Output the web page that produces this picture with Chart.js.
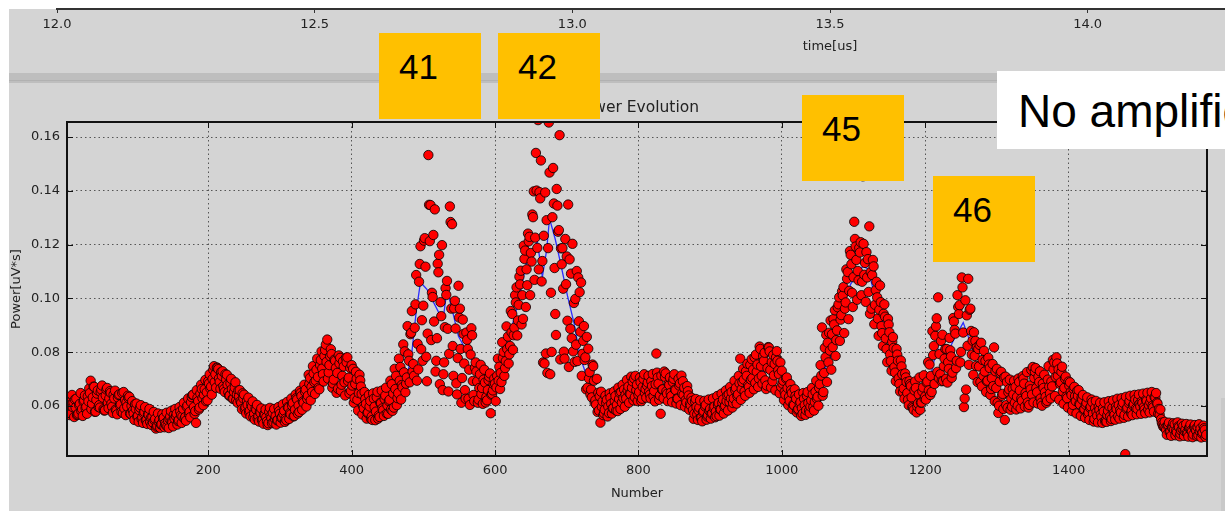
<!DOCTYPE html>
<html>
<head>
<meta charset="utf-8">
<title>Power Evolution</title>
<script src="https://cdn.jsdelivr.net/npm/chart.js@4.4.1/dist/chart.umd.min.js"></script>
<style>
  html, body { margin: 0; padding: 0; }
  body { width: 1225px; height: 511px; overflow: hidden; position: relative; background: #fff; }
  #fundo { position: absolute; left: 9px; top: 9px; right: 0; bottom: 0; background: #d4d4d4; }
  #faixa { position: absolute; left: 9px; top: 73px; right: 0; height: 10px; background: #bebebe; }
  #faixaLinha { position: absolute; left: 9px; top: 80px; right: 0; height: 1px; background: #b1b1b1; }
  #bordaDireita { position: absolute; left: 1221px; top: 398px; width: 4px; bottom: 0; background: #c9c9c9; }
  canvas { position: absolute; }
  #graficoPotencia { left: 0; top: 0; }
  #graficoTempo { left: 37px; top: 0; }
  .caixa { position: absolute; width: 102px; height: 86px; background: #ffc000; box-sizing: border-box;
           padding: 16px 0 0 20px; font: 35px/35px "Liberation Sans", Arial, sans-serif; color: #000; }
  #aviso { position: absolute; left: 997px; top: 71px; width: 228px; height: 78px; background: #fff; box-sizing: border-box;
           padding: 17px 0 0 21px; font: 46px/46px "Liberation Sans", Arial, sans-serif; color: #000;
           white-space: nowrap; overflow: hidden; }
</style>
</head>
<body>
<div id="fundo"></div>
<div id="faixa"></div>
<div id="faixaLinha"></div>
<div id="bordaDireita"></div>
<canvas id="graficoPotencia" width="1225" height="511"></canvas>
<canvas id="graficoTempo" width="1586" height="56"></canvas>
<div class="caixa" style="left:379px; top:33px;">41</div>
<div class="caixa" style="left:498px; top:33px;">42</div>
<div class="caixa" style="left:802px; top:95px;">45</div>
<div class="caixa" style="left:933px; top:176px;">46</div>
<div id="aviso">No amplification</div>

<script>
// Amostras, em três séries intercaladas (cada uma pega 1 a cada 3 amostras)
const passoAmostra = 3;
const primeiraAmostra = 3;          // potencia: amostras 3, 6, 9, ...
const primeiraBorda = 4;            // potenciaBorda: amostras 4, 7, 10, ...
const primeiraIntercalada = 5;      // potenciaIntercalada: amostras 5, 8, 11, ...
const potencia = [
    0.0585, 0.0602, 0.0571, 0.0613, 0.0594, 0.0568, 0.0608, 0.0589, 0.0621, 0.0597,
    0.0617, 0.0694, 0.0632, 0.0578, 0.0646, 0.0603, 0.0661, 0.0588, 0.0639, 0.0612,
    0.0655, 0.0597, 0.0628, 0.0583, 0.0641, 0.0606, 0.0574, 0.0622, 0.0598, 0.0634,
    0.0601, 0.0572, 0.0589, 0.0563, 0.0594, 0.0558, 0.0578, 0.0549, 0.0567, 0.0556,
    0.0538, 0.0552, 0.0527, 0.0548, 0.0533, 0.0557, 0.0529, 0.0546, 0.0561, 0.0539,
    0.0553, 0.0571, 0.0548, 0.0566, 0.0589, 0.0559, 0.0602, 0.0578, 0.0633, 0.0596,
    0.0537, 0.0618, 0.0646, 0.0629, 0.0662, 0.0651, 0.0683, 0.0672, 0.0735, 0.0718,
    0.0741, 0.0689, 0.0712, 0.0663, 0.0698, 0.0651, 0.0684, 0.0627, 0.0668, 0.0643,
    0.0636, 0.0612, 0.0628, 0.0595, 0.0604, 0.0583, 0.0598, 0.0571, 0.0586, 0.0562,
    0.0574, 0.0551, 0.0566, 0.0543, 0.0578, 0.0555, 0.0539, 0.0562, 0.0548, 0.0571,
    0.0558, 0.0582, 0.0547, 0.0593, 0.0569, 0.0611, 0.0586, 0.0624, 0.0578, 0.0637,
    0.0612, 0.0661, 0.0638, 0.0704, 0.0652, 0.0689, 0.0735, 0.0668, 0.0771, 0.0718,
    0.0808, 0.0847, 0.0752, 0.0793, 0.0698, 0.0741, 0.0664, 0.0779, 0.0712, 0.0688,
    0.0762, 0.0705, 0.0657, 0.0738, 0.0682, 0.0623, 0.0716, 0.0645, 0.0591, 0.0608,
    0.0576, 0.0619, 0.0548, 0.0597, 0.0632, 0.0565, 0.0611, 0.0584, 0.0639, 0.0602,
    0.0623, 0.0681, 0.0594, 0.0712, 0.0648, 0.0745, 0.0669, 0.0803, 0.0706, 0.0768,
    0.0872, 0.0756, 0.0978, 0.0831, 0.1128, 0.0919, 0.1215, 0.0783, 0.1533, 0.1347,
    0.1005, 0.1331, 0.0852, 0.1162, 0.0934, 0.0718, 0.1038, 0.0887, 0.1342, 0.1276,
    0.0963, 0.0684, 0.1047, 0.0812, 0.0921, 0.0659, 0.0846, 0.0735, 0.0889, 0.0641,
    0.0762, 0.0612, 0.0718, 0.0667, 0.0735, 0.0634, 0.0696, 0.0573, 0.0658, 0.0683,
    0.0712, 0.0746, 0.0689, 0.0801, 0.0767, 0.0858, 0.0823, 0.0942, 0.0891, 0.1041,
    0.0976, 0.1103, 0.0924, 0.1178, 0.1049, 0.1229, 0.1137, 0.1398, 0.1541, 0.1663,
    0.1372, 0.1139, 0.0758, 0.1291, 0.1654, 0.1021, 0.1485, 0.0942, 0.1345, 0.1607,
    0.1127, 0.0802, 0.1053, 0.1349, 0.0887, 0.1203, 0.0764, 0.1102, 0.0915, 0.1059,
    0.0842, 0.0781, 0.0668, 0.0726, 0.0632, 0.0694, 0.0605, 0.0649, 0.0538, 0.0617,
    0.0586, 0.0623, 0.0574, 0.0608, 0.0592, 0.0637, 0.0581, 0.0649, 0.0613, 0.0661,
    0.0628, 0.0672, 0.0644, 0.0691, 0.0633, 0.0679, 0.0652, 0.0618, 0.0701, 0.0663,
    0.0687, 0.0642, 0.0674, 0.0656, 0.0795, 0.0683, 0.0571, 0.0662, 0.0708, 0.0645,
    0.0678, 0.0637, 0.0701, 0.0659, 0.0627, 0.0684, 0.0646, 0.0668, 0.0613, 0.0639,
    0.0602, 0.0585, 0.0617, 0.0569, 0.0594, 0.0558, 0.0581, 0.0604, 0.0566, 0.0589,
    0.0573, 0.0598, 0.0562, 0.0611, 0.0587, 0.0624, 0.0601, 0.0639, 0.0615, 0.0652,
    0.0628, 0.0667, 0.0643, 0.0776, 0.0689, 0.0654, 0.0712, 0.0671, 0.0698, 0.0735,
    0.0686, 0.0754, 0.0821, 0.0712, 0.0768, 0.0663, 0.0819, 0.0734, 0.0692, 0.0756,
    0.0804, 0.0718, 0.0671, 0.0694, 0.0642, 0.0667, 0.0619, 0.0648, 0.0603, 0.0627,
    0.0589, 0.0614, 0.0571, 0.0603, 0.0638, 0.0582, 0.0621, 0.0596, 0.0653, 0.0634,
    0.0681, 0.0892, 0.0723, 0.0864, 0.0762, 0.0918, 0.0819, 0.0956, 0.0881, 0.1004,
    0.0938, 0.1042, 0.0985, 0.1098, 0.1176, 0.1021, 0.1285, 0.1143, 0.1067, 0.1209,
    0.1454, 0.1132, 0.1078, 0.1268, 0.0962, 0.1119, 0.1031, 0.0925, 0.1048, 0.0871,
    0.0978, 0.0812, 0.0903, 0.0767, 0.0856, 0.0724, 0.0791, 0.0682, 0.0747, 0.0665,
    0.0706, 0.0623, 0.0681, 0.0597, 0.0658, 0.0576, 0.0643, 0.0612, 0.0669, 0.0635,
    0.0691, 0.0754, 0.0652, 0.0823, 0.0896, 0.1004, 0.0718, 0.0865, 0.0776, 0.0812,
    0.0738, 0.0784, 0.0927, 0.0869, 0.1012, 0.0975, 0.1078, 0.0596, 0.0661, 0.1073,
    0.0962, 0.0843, 0.0786, 0.0818, 0.0747, 0.0835, 0.0712, 0.0768, 0.0694, 0.0741,
    0.0703, 0.0818, 0.0667, 0.0574, 0.0721, 0.0645, 0.0548, 0.0689, 0.0662, 0.0627,
    0.0643, 0.0671, 0.0601, 0.0658, 0.0619, 0.0683, 0.0637, 0.0594, 0.0662, 0.0745,
    0.0728, 0.0651, 0.0689, 0.0612, 0.0667, 0.0634, 0.0698, 0.0647, 0.0673, 0.0762,
    0.0781, 0.0736, 0.0688, 0.0654, 0.0702, 0.0629, 0.0676, 0.0641, 0.0663, 0.0618,
    0.0637, 0.0605, 0.0624, 0.0589, 0.0612, 0.0576, 0.0598, 0.0571, 0.0593, 0.0564,
    0.0586, 0.0558, 0.0579, 0.0547, 0.0582, 0.0561, 0.0593, 0.0567, 0.0588, 0.0603,
    0.0576, 0.0612, 0.0421, 0.0594, 0.0618, 0.0583, 0.0607, 0.0591, 0.0622, 0.0598,
    0.0611, 0.0587, 0.0619, 0.0603, 0.0628, 0.0595, 0.0631, 0.0609, 0.0567, 0.0538,
    0.0524, 0.0511, 0.0529, 0.0506, 0.0518, 0.0532, 0.0502, 0.0521, 0.0509, 0.0526,
    0.0513, 0.0497, 0.0519, 0.0504, 0.0523, 0.0508, 0.0491, 0.0516, 0.0502, 0.0511
];
const potenciaBorda = [
    0.0632, 0.0566, 0.0641, 0.0559, 0.0627, 0.0572, 0.0648, 0.0563, 0.0639, 0.0571,
    0.0665, 0.0588, 0.0672, 0.0579, 0.0658, 0.0594, 0.0676, 0.0583, 0.0661, 0.0592,
    0.0649, 0.0574, 0.0657, 0.0569, 0.0643, 0.0578, 0.0652, 0.0566, 0.0638, 0.0572,
    0.0618, 0.0548, 0.0609, 0.0541, 0.0603, 0.0537, 0.0596, 0.0533, 0.0589, 0.0529,
    0.0578, 0.0516, 0.0572, 0.0519, 0.0569, 0.0521, 0.0575, 0.0518, 0.0581, 0.0524,
    0.0589, 0.0531, 0.0596, 0.0537, 0.0612, 0.0545, 0.0628, 0.0558, 0.0641, 0.0571,
    0.0659, 0.0587, 0.0679, 0.0603, 0.0697, 0.0621, 0.0718, 0.0642, 0.0748, 0.0668,
    0.0737, 0.0664, 0.0729, 0.0652, 0.0716, 0.0638, 0.0701, 0.0627, 0.0688, 0.0612,
    0.0659, 0.0588, 0.0642, 0.0572, 0.0631, 0.0561, 0.0617, 0.0549, 0.0604, 0.0542,
    0.0591, 0.0534, 0.0587, 0.0529, 0.0593, 0.0536, 0.0589, 0.0531, 0.0596, 0.0538,
    0.0606, 0.0541, 0.0615, 0.0552, 0.0628, 0.0561, 0.0643, 0.0572, 0.0657, 0.0586,
    0.0679, 0.0598, 0.0716, 0.0621, 0.0748, 0.0645, 0.0776, 0.0662, 0.0803, 0.0691,
    0.0828, 0.0702, 0.0785, 0.0668, 0.0772, 0.0649, 0.0788, 0.0657, 0.0766, 0.0639,
    0.0781, 0.0647, 0.0752, 0.0612, 0.0727, 0.0583, 0.0695, 0.0568, 0.0652, 0.0553,
    0.0641, 0.0552, 0.0647, 0.0547, 0.0653, 0.0559, 0.0657, 0.0563, 0.0668, 0.0571,
    0.0694, 0.0582, 0.0738, 0.0603, 0.0776, 0.0624, 0.0829, 0.0651, 0.0897, 0.0688,
    0.0953, 0.0712, 0.1087, 0.0736, 0.1194, 0.0768, 0.1224, 0.0692, 0.1348, 0.0845,
    0.1236, 0.0728, 0.1129, 0.0681, 0.1198, 0.0762, 0.1013, 0.0654, 0.1284, 0.0823,
    0.0991, 0.0643, 0.0929, 0.0612, 0.0868, 0.0627, 0.0812, 0.0604, 0.0863, 0.0618,
    0.0728, 0.0624, 0.0753, 0.0608, 0.0687, 0.0621, 0.0709, 0.0642, 0.0681, 0.0618,
    0.0776, 0.0663, 0.0837, 0.0712, 0.0896, 0.0758, 0.0953, 0.0809, 0.1012, 0.0862,
    0.1081, 0.0903, 0.1196, 0.0968, 0.1241, 0.1012, 0.1312, 0.1069, 0.1401, 0.1108,
    0.1513, 0.0762, 0.1394, 0.0723, 0.1468, 0.0801, 0.1353, 0.0864, 0.1248, 0.0773,
    0.1187, 0.0776, 0.1156, 0.0745, 0.1092, 0.0803, 0.0998, 0.0767, 0.1023, 0.0712,
    0.0897, 0.0662, 0.0813, 0.0643, 0.0754, 0.0612, 0.0701, 0.0583, 0.0653, 0.0566,
    0.0638, 0.0561, 0.0647, 0.0572, 0.0654, 0.0583, 0.0668, 0.0589, 0.0679, 0.0597,
    0.0697, 0.0612, 0.0709, 0.0621, 0.0712, 0.0618, 0.0705, 0.0627, 0.0718, 0.0631,
    0.0712, 0.0628, 0.0719, 0.0617, 0.0724, 0.0623, 0.0713, 0.0629, 0.0721, 0.0618,
    0.0706, 0.0614, 0.0718, 0.0609, 0.0701, 0.0603, 0.0692, 0.0597, 0.0674, 0.0586,
    0.0631, 0.0552, 0.0626, 0.0548, 0.0621, 0.0543, 0.0619, 0.0549, 0.0624, 0.0553,
    0.0628, 0.0558, 0.0637, 0.0564, 0.0646, 0.0572, 0.0658, 0.0583, 0.0671, 0.0594,
    0.0694, 0.0609, 0.0712, 0.0623, 0.0738, 0.0638, 0.0757, 0.0649, 0.0774, 0.0662,
    0.0791, 0.0671, 0.0812, 0.0683, 0.0798, 0.0676, 0.0817, 0.0669, 0.0789, 0.0658,
    0.0768, 0.0647, 0.0731, 0.0622, 0.0702, 0.0603, 0.0681, 0.0588, 0.0662, 0.0576,
    0.0643, 0.0563, 0.0648, 0.0567, 0.0652, 0.0574, 0.0667, 0.0583, 0.0694, 0.0601,
    0.0752, 0.0638, 0.0816, 0.0689, 0.0872, 0.0735, 0.0923, 0.0786, 0.0967, 0.0842,
    0.1026, 0.0871, 0.1108, 0.0923, 0.1162, 0.0968, 0.1221, 0.0995, 0.1188, 0.1012,
    0.1203, 0.0987, 0.1146, 0.0943, 0.1087, 0.0904, 0.1062, 0.0861, 0.0986, 0.0823,
    0.0932, 0.0763, 0.0874, 0.0731, 0.0816, 0.0692, 0.0768, 0.0654, 0.0718, 0.0627,
    0.0689, 0.0603, 0.0674, 0.0592, 0.0691, 0.0598, 0.0706, 0.0613, 0.0714, 0.0624,
    0.0763, 0.0641, 0.0878, 0.0682, 0.0926, 0.0704, 0.0842, 0.0693, 0.0812, 0.0687,
    0.0853, 0.0705, 0.0914, 0.0741, 0.0968, 0.0762, 0.1041, 0.0628, 0.0937, 0.0753,
    0.0879, 0.0716, 0.0842, 0.0689, 0.0827, 0.0673, 0.0805, 0.0652, 0.0779, 0.0641,
    0.0756, 0.0618, 0.0738, 0.0601, 0.0727, 0.0589, 0.0709, 0.0593, 0.0698, 0.0597,
    0.0694, 0.0587, 0.0702, 0.0591, 0.0711, 0.0598, 0.0726, 0.0604, 0.0734, 0.0613,
    0.0741, 0.0609, 0.0729, 0.0601, 0.0716, 0.0612, 0.0748, 0.0628, 0.0771, 0.0637,
    0.0758, 0.0623, 0.0727, 0.0608, 0.0709, 0.0594, 0.0688, 0.0581, 0.0671, 0.0572,
    0.0659, 0.0563, 0.0641, 0.0556, 0.0632, 0.0548, 0.0624, 0.0542, 0.0619, 0.0539,
    0.0612, 0.0537, 0.0614, 0.0541, 0.0618, 0.0544, 0.0621, 0.0549, 0.0627, 0.0553,
    0.0629, 0.0556, 0.0634, 0.0561, 0.0638, 0.0566, 0.0641, 0.0569, 0.0643, 0.0571,
    0.0646, 0.0573, 0.0649, 0.0576, 0.0652, 0.0579, 0.0648, 0.0571, 0.0587, 0.0531,
    0.0541, 0.0493, 0.0538, 0.0489, 0.0536, 0.0491, 0.0539, 0.0487, 0.0534, 0.0489,
    0.0533, 0.0486, 0.0531, 0.0484, 0.0529, 0.0488, 0.0532, 0.0483, 0.0527, 0.0485
];
const potenciaIntercalada = [
    0.0612, 0.0579, 0.0596, 0.0624, 0.0566, 0.0603, 0.0581, 0.0617, 0.0592, 0.0636,
    0.0648, 0.0609, 0.0671, 0.0623, 0.0596, 0.0652, 0.0631, 0.0584, 0.0667, 0.0628,
    0.0609, 0.0642, 0.0587, 0.0631, 0.0602, 0.0648, 0.0591, 0.0613, 0.0629, 0.0571,
    0.0583, 0.0607, 0.0561, 0.0584, 0.0552, 0.0573, 0.0546, 0.0569, 0.0541, 0.0558,
    0.0547, 0.0523, 0.0541, 0.0531, 0.0554, 0.0536, 0.0524, 0.0552, 0.0543, 0.0567,
    0.0562, 0.0544, 0.0579, 0.0561, 0.0553, 0.0597, 0.0571, 0.0614, 0.0642, 0.0581,
    0.0631, 0.0594, 0.0663, 0.0641, 0.0618, 0.0692, 0.0665, 0.0701, 0.0689, 0.0743,
    0.0702, 0.0726, 0.0674, 0.0718, 0.0679, 0.0639, 0.0663, 0.0652, 0.0621, 0.0657,
    0.0618, 0.0647, 0.0589, 0.0619, 0.0577, 0.0606, 0.0559, 0.0591, 0.0553, 0.0578,
    0.0547, 0.0569, 0.0558, 0.0536, 0.0562, 0.0574, 0.0552, 0.0547, 0.0581, 0.0556,
    0.0571, 0.0553, 0.0596, 0.0574, 0.0601, 0.0563, 0.0629, 0.0602, 0.0648, 0.0617,
    0.0653, 0.0627, 0.0682, 0.0671, 0.0721, 0.0694, 0.0708, 0.0752, 0.0739, 0.0786,
    0.0764, 0.0725, 0.0811, 0.0684, 0.0768, 0.0723, 0.0758, 0.0679, 0.0747, 0.0779,
    0.0693, 0.0741, 0.0676, 0.0629, 0.0701, 0.0648, 0.0672, 0.0599, 0.0626, 0.0574,
    0.0598, 0.0561, 0.0627, 0.0579, 0.0553, 0.0612, 0.0591, 0.0626, 0.0572, 0.0618,
    0.0587, 0.0646, 0.0663, 0.0629, 0.0694, 0.0678, 0.0725, 0.0683, 0.0792, 0.0867,
    0.0728, 0.0891, 0.0694, 0.1062, 0.0811, 0.0973, 0.1118, 0.0869, 0.1213, 0.1021,
    0.0914, 0.0768, 0.1097, 0.0986, 0.0659, 0.0893, 0.1065, 0.0794, 0.0962, 0.0712,
    0.0888, 0.0778, 0.0962, 0.0704, 0.0758, 0.0873, 0.0627, 0.0791, 0.0693, 0.0742,
    0.0691, 0.0667, 0.0644, 0.0698, 0.0613, 0.0659, 0.0721, 0.0645, 0.0702, 0.0669,
    0.0694, 0.0723, 0.0778, 0.0741, 0.0812, 0.0792, 0.0874, 0.0863, 0.0985, 0.0918,
    0.1052, 0.1012, 0.1147, 0.1108, 0.1212, 0.1169, 0.1302, 0.1226, 0.1188, 0.1395,
    0.1063, 0.1233, 0.0795, 0.1187, 0.0718, 0.1302, 0.1113, 0.1407, 0.1254, 0.1186,
    0.1036, 0.1221, 0.0917, 0.1145, 0.0852, 0.0983, 0.0828, 0.1078, 0.0876, 0.0794,
    0.0771, 0.0857, 0.0702, 0.0661, 0.0748, 0.0621, 0.0578, 0.0636, 0.0597, 0.0573,
    0.0612, 0.0598, 0.0631, 0.0591, 0.0619, 0.0604, 0.0626, 0.0652, 0.0629, 0.0642,
    0.0657, 0.0646, 0.0668, 0.0702, 0.0659, 0.0642, 0.0688, 0.0671, 0.0649, 0.0676,
    0.0653, 0.0692, 0.0636, 0.0681, 0.0706, 0.0639, 0.0661, 0.0728, 0.0654, 0.0683,
    0.0649, 0.0689, 0.0661, 0.0628, 0.0676, 0.0713, 0.0641, 0.0622, 0.0655, 0.0608,
    0.0619, 0.0571, 0.0596, 0.0583, 0.0556, 0.0577, 0.0598, 0.0561, 0.0582, 0.0571,
    0.0592, 0.0579, 0.0604, 0.0588, 0.0612, 0.0597, 0.0618, 0.0643, 0.0628, 0.0611,
    0.0659, 0.0637, 0.0684, 0.0663, 0.0698, 0.0729, 0.0677, 0.0753, 0.0704, 0.0781,
    0.0727, 0.0702, 0.0748, 0.0786, 0.0695, 0.0741, 0.0803, 0.0763, 0.0714, 0.0781,
    0.0732, 0.0762, 0.0683, 0.0652, 0.0706, 0.0634, 0.0659, 0.0605, 0.0637, 0.0586,
    0.0608, 0.0592, 0.0627, 0.0584, 0.0611, 0.0598, 0.0643, 0.0615, 0.0627, 0.0668,
    0.0713, 0.0652, 0.0781, 0.0835, 0.0806, 0.0867, 0.0903, 0.0845, 0.0978, 0.0921,
    0.1011, 0.0962, 0.1073, 0.1028, 0.1127, 0.1079, 0.1193, 0.1102, 0.1171, 0.1062,
    0.1088, 0.1172, 0.1024, 0.1098, 0.1143, 0.0976, 0.1004, 0.0958, 0.0897, 0.0943,
    0.0851, 0.0924, 0.0792, 0.0838, 0.0744, 0.0812, 0.0703, 0.0769, 0.0652, 0.0721,
    0.0648, 0.0692, 0.0632, 0.0585, 0.0667, 0.0609, 0.0586, 0.0654, 0.0628, 0.0687,
    0.0658, 0.0712, 0.0789, 0.0861, 0.0727, 0.0793, 0.0692, 0.0748, 0.0701, 0.0763,
    0.0807, 0.0724, 0.0883, 0.0768, 0.0942, 0.0801, 0.0873, 0.0993, 0.0824, 0.0958,
    0.0791, 0.0874, 0.0749, 0.0812, 0.0689, 0.0771, 0.0728, 0.0692, 0.0754, 0.0663,
    0.0674, 0.0729, 0.0612, 0.0691, 0.0638, 0.0706, 0.0603, 0.0651, 0.0586, 0.0664,
    0.0612, 0.0634, 0.0689, 0.0627, 0.0702, 0.0648, 0.0613, 0.0676, 0.0642, 0.0704,
    0.0667, 0.0709, 0.0628, 0.0683, 0.0651, 0.0619, 0.0672, 0.0691, 0.0736, 0.0708,
    0.0712, 0.0682, 0.0746, 0.0667, 0.0635, 0.0691, 0.0652, 0.0604, 0.0637, 0.0656,
    0.0608, 0.0631, 0.0586, 0.0604, 0.0569, 0.0593, 0.0614, 0.0551, 0.0577, 0.0596,
    0.0569, 0.0591, 0.0543, 0.0566, 0.0598, 0.0552, 0.0574, 0.0597, 0.0561, 0.0584,
    0.0602, 0.0567, 0.0589, 0.0611, 0.0574, 0.0602, 0.0624, 0.0589, 0.0608, 0.0617,
    0.0596, 0.0623, 0.0587, 0.0614, 0.0601, 0.0633, 0.0612, 0.0589, 0.0551, 0.0523,
    0.0519, 0.0527, 0.0503, 0.0522, 0.0511, 0.0508, 0.0524, 0.0497, 0.0514, 0.0506,
    0.0501, 0.0518, 0.0509, 0.0494, 0.0513, 0.0521, 0.0505, 0.0498, 0.0517, 0.0493
];

// Curva média (linha azul)
const mediaNumero = [
    3, 30, 50, 80, 110, 140, 170, 195, 210, 230, 260, 290, 320, 345, 365, 385, 405, 425, 445, 465,
    478, 484, 490, 496, 505, 521, 528, 533, 540, 549, 559, 570, 585, 598, 608, 620, 631, 645, 659, 666,
    672, 676, 684, 691, 701, 710, 719, 733, 750, 775, 800, 830, 860, 890, 920, 950, 980, 1000, 1020, 1040,
    1052, 1068, 1082, 1096, 1113, 1120, 1131, 1142, 1162, 1169, 1183, 1191, 1205, 1212, 1218, 1225, 1240, 1253, 1260, 1267,
    1290, 1320, 1350, 1380, 1410, 1440, 1470, 1500, 1525, 1535, 1560, 1590
];
const mediaPotencia = [
    0.0595, 0.0605, 0.0625, 0.0612, 0.0568, 0.0545, 0.0572, 0.0640, 0.0675, 0.0668, 0.0598, 0.0558, 0.0585, 0.0650, 0.0715, 0.0700, 0.0660, 0.0598, 0.0605, 0.0650,
    0.0720, 0.0800, 0.0950, 0.1060, 0.1034, 0.0950, 0.0930, 0.1034, 0.0960, 0.0859, 0.0810, 0.0760, 0.0690, 0.0680, 0.0724, 0.0860, 0.0970, 0.1147, 0.1210, 0.1080,
    0.1180, 0.1297, 0.1220, 0.1136, 0.1010, 0.0910, 0.0780, 0.0670, 0.0610, 0.0615, 0.0655, 0.0665, 0.0650, 0.0585, 0.0605, 0.0680, 0.0740, 0.0710, 0.0635, 0.0615,
    0.0697, 0.0783, 0.0948, 0.1053, 0.1120, 0.1110, 0.0997, 0.0896, 0.0760, 0.0697, 0.0695, 0.0650, 0.0680, 0.0765, 0.0810, 0.0765, 0.0847, 0.0910, 0.0858, 0.0800,
    0.0740, 0.0660, 0.0655, 0.0690, 0.0640, 0.0585, 0.0580, 0.0600, 0.0600, 0.0530, 0.0515, 0.0510
];

// Marcas dos eixos
const ticksNumero = [200, 400, 600, 800, 1000, 1200, 1400];
const ticksPotencia = [0.06, 0.08, 0.10, 0.12, 0.14, 0.16];
const ticksTempo = [12.0, 12.5, 13.0, 13.5, 14.0, 14.5, 15.0];

Chart.defaults.font.family = '"DejaVu Sans", sans-serif';
Chart.defaults.color = '#262626';

// Moldura do gráfico com marcas para dentro, como no matplotlib
const molduraPlugin = {
    id: 'moldura',
    afterDatasetsDraw(chart) {
        const ctx = chart.ctx;
        const a = chart.chartArea;
        const sx = chart.scales.x;
        const sy = chart.scales.y;
        ctx.save();
        ctx.strokeStyle = '#111';
        ctx.lineWidth = 1;
        ctx.beginPath();
        sx.ticks.forEach(function (t) {
            const px = Math.round(sx.getPixelForValue(t.value)) + 0.5;
            ctx.moveTo(px, a.bottom); ctx.lineTo(px, a.bottom - 6);
            ctx.moveTo(px, a.top); ctx.lineTo(px, a.top + 6);
        });
        sy.ticks.forEach(function (t) {
            const py = Math.round(sy.getPixelForValue(t.value)) + 0.5;
            ctx.moveTo(a.left, py); ctx.lineTo(a.left + 6, py);
            ctx.moveTo(a.right, py); ctx.lineTo(a.right - 6, py);
        });
        ctx.stroke();
        ctx.lineWidth = 2;
        ctx.strokeRect(a.left, a.top, a.right - a.left, a.bottom - a.top);
        ctx.restore();
    }
};

function juntarSerie(pontos, valores, primeira) {
    for (let i = 0; i < valores.length; i++) {
        pontos.push({ x: primeira + passoAmostra * i, y: valores[i] });
    }
}

function montarGraficoPotencia() {
    let pontos = [];
    juntarSerie(pontos, potencia, primeiraAmostra);
    juntarSerie(pontos, potenciaBorda, primeiraBorda);
    juntarSerie(pontos, potenciaIntercalada, primeiraIntercalada);
    // ordena pelo número da amostra, como no registro original
    pontos.sort(function (a, b) { return a.x - b.x; });

    let media = [];
    for (let i = 0; i < mediaNumero.length; i++) {
        media.push({ x: mediaNumero[i], y: mediaPotencia[i] });
    }

    const config = {
        type: 'scatter',
        data: {
            datasets: [{
                label: 'Power',
                data: pontos,
                order: 1,
                pointRadius: 4.7,
                pointHoverRadius: 4.7,
                backgroundColor: '#ff0000',
                borderColor: 'rgba(0, 0, 0, 0.9)',
                borderWidth: 0.9,
                clip: 0
            }, {
                type: 'line',
                label: 'Média',
                data: media,
                order: 2,
                borderColor: '#2b2bff',
                borderWidth: 1.3,
                pointRadius: 0,
                fill: false,
                tension: 0,
                clip: 0
            }]
        },
        options: {
            responsive: false,
            animation: false,
            layout: { padding: { left: 0, right: 18, top: 98.7, bottom: 0 } },
            plugins: {
                legend: { display: false },
                tooltip: { enabled: false },
                title: {
                    display: true,
                    text: 'Power Evolution',
                    fullSize: false,
                    color: '#222',
                    font: { size: 15.5, weight: 'normal' },
                    padding: { top: 0, bottom: 4.7 }
                }
            },
            scales: {
                x: {
                    type: 'linear',
                    min: 3,
                    max: 1593,
                    afterBuildTicks: function (s) { s.ticks = ticksNumero.map(function (v) { return { value: v }; }); },
                    afterFit: function (s) { s.height = 55; },
                    ticks: {
                        font: { size: 13 }, padding: 7, color: '#222',
                        callback: function (v) { return String(v); }
                    },
                    grid: { color: 'rgba(0, 0, 0, 0.6)', lineWidth: 1, drawTicks: false },
                    border: { display: false, dash: [1.5, 3] },
                    title: { display: true, text: 'Number', font: { size: 13 }, color: '#222', padding: { top: 0, bottom: 9.2 } }
                },
                y: {
                    type: 'linear',
                    min: 0.0414,
                    max: 0.1656,
                    afterBuildTicks: function (s) { s.ticks = ticksPotencia.map(function (v) { return { value: v }; }); },
                    afterFit: function (s) { s.width = 67; },
                    ticks: {
                        font: { size: 13 }, padding: 7, color: '#222',
                        callback: function (v) { return Number(v).toFixed(2); }
                    },
                    grid: { color: 'rgba(0, 0, 0, 0.6)', lineWidth: 1, drawTicks: false },
                    border: { display: false, dash: [1.5, 3] },
                    title: { display: true, text: 'Power[uV*s]', font: { size: 13 }, color: '#222', padding: { top: 9.2, bottom: 0 } }
                }
            }
        },
        plugins: [molduraPlugin]
    };

    new Chart(document.getElementById('graficoPotencia'), config);
}

// Eixo de tempo da figura de cima (só o eixo, sem dados)
function montarEixoTempo() {
    const config = {
        type: 'scatter',
        data: { datasets: [] },
        options: {
            responsive: false,
            animation: false,
            layout: { padding: { left: 20, right: 20, top: 0, bottom: 0 } },
            plugins: { legend: { display: false }, tooltip: { enabled: false } },
            scales: {
                x: {
                    type: 'linear',
                    position: 'bottom',
                    min: 12.0,
                    max: 15.0,
                    afterBuildTicks: function (s) { s.ticks = ticksTempo.map(function (v) { return { value: v }; }); },
                    afterFit: function (s) { s.height = 47; },
                    ticks: {
                        font: { size: 13 }, padding: 4, color: '#222', maxRotation: 0,
                        callback: function (v) { return Number(v).toFixed(1); }
                    },
                    grid: { drawOnChartArea: false, drawTicks: true, tickLength: 4, color: '#333' },
                    border: { display: true, color: '#333', width: 2 },
                    title: { display: true, text: 'time[us]', font: { size: 13 }, color: '#222', padding: { top: 0, bottom: 1.2 } }
                },
                y: { display: false }
            }
        }
    };
    new Chart(document.getElementById('graficoTempo'), config);
}

montarGraficoPotencia();
montarEixoTempo();
</script>
</body>
</html>
